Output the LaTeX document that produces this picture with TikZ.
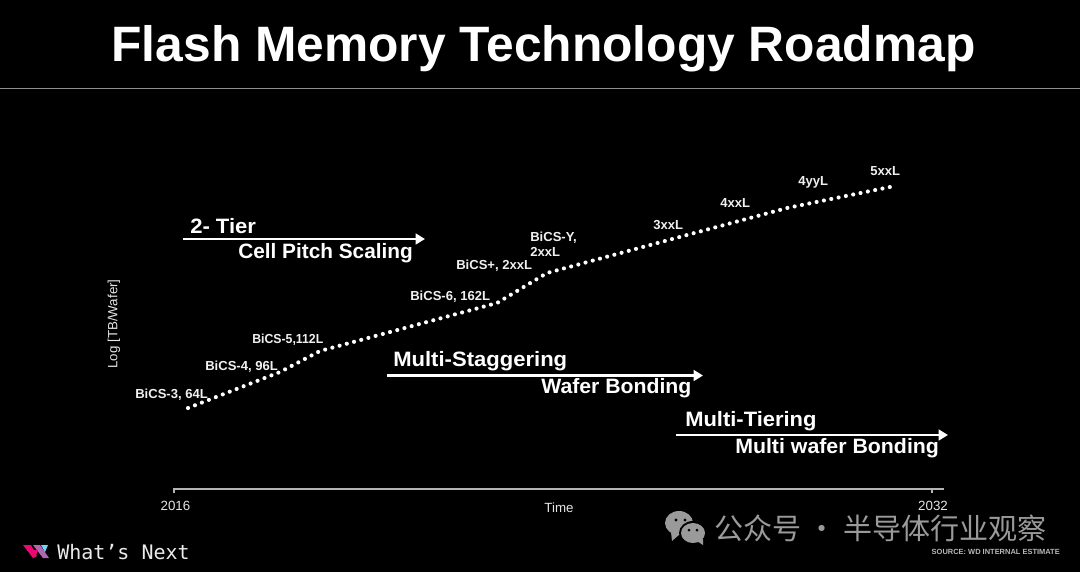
\documentclass[tikz,border=0pt]{standalone}
\usepackage{graphicx}
\usepackage{fontspec}
\setmainfont{Liberation Sans}
\newfontfamily\cjk{Noto Sans CJK SC}
\newfontfamily\monof{DejaVu Sans Mono}
\usetikzlibrary{arrows.meta}
\definecolor{axisgray}{HTML}{B4B4B4}
\definecolor{rulegray}{HTML}{8F8F8F}
\definecolor{wmgray}{HTML}{9A9A9A}
\tikzset{
  x=0.75pt,y=-0.75pt,
  lbl/.style={text=white!94!black,inner sep=0pt,font=\fontsize{9.8}{11.3}\selectfont\bfseries,align=left},
  thin lbl/.style={text=white!90!black,inner sep=0pt,font=\fontsize{10}{12}\selectfont},
  head/.style={text=white,inner sep=0pt,font=\fontsize{15.6}{18}\selectfont\bfseries},
  phase/.style={draw=white,line width=2.2pt,-{Triangle[length=7pt,width=8pt]}},
  axisline/.style={draw=axisgray,line width=1.1pt},
  dots/.style={draw=white,line width=3.1pt,line cap=round,dash pattern=on 0pt off 5.6pt},
}
\begin{document}
\begin{tikzpicture}
\useasboundingbox[fill=black] (0,0) rectangle (1080,572);
\node[text=white,inner sep=0pt,anchor=base,font=\fontsize{37.3}{44}\selectfont\bfseries] (title) at (543.5,61.5) {Flash Memory Technology Roadmap};
\coordinate (ruleL) at (0,88.5); \coordinate (ruleR) at (1080,88.5);
\draw[draw=rulegray,line width=1.1pt] (ruleL) -- (ruleR);

% trend
\coordinate (p0) at (188,408); \coordinate (p1) at (280,372); \coordinate (p2) at (320,351);
\coordinate (p3) at (497,303); \coordinate (p4) at (547,273); \coordinate (p5) at (687,235);
\coordinate (p6) at (787,208); \coordinate (p7) at (890,187);
\draw[dots] (p0) -- (p1) -- (p2) -- (p3) -- (p4) -- (p5) -- (p6) -- (p7);

% trend labels
\node[lbl,anchor=west] (b3) at (135,394.5) {BiCS-3, 64L};
\node[lbl,anchor=west] (b4) at (205,366.5) {BiCS-4, 96L};
\node[lbl,anchor=west] (b5) at (252,339.5) {\scalebox{0.94}[1]{BiCS-5,112L}};
\node[lbl,anchor=west] (b6) at (410,296.5) {BiCS-6, 162L};
\node[lbl,anchor=west] (bp) at (456,266) {BiCS+, 2xxL};
\node[lbl,anchor=west] (by) at (530,244.5) {BiCS-Y,\\2xxL};
\node[lbl,anchor=west] (l3) at (653,225) {3xxL};
\node[lbl,anchor=west] (l4) at (720,203) {4xxL};
\node[lbl,anchor=west] (l4y) at (798,182.5) {4yyL};
\node[lbl,anchor=west] (l5) at (870,171) {5xxL};

% phases
\node[head,anchor=west] (t1) at (190,226.5) {\scalebox{1.06}[1]{2- Tier}};
\node[head,anchor=west] (t2) at (238,253.5) {Cell Pitch Scaling};
\coordinate (a1s) at (183,239); \coordinate (a1e) at (425,239);
\draw[phase] (a1s) -- (a1e);
\node[head,anchor=west] (m1) at (393,361.5) {\scalebox{1.06}[1]{Multi-Staggering}};
\node[head,anchor=west] (m2) at (541,388.5) {\scalebox{1.02}[1]{Wafer Bonding}};
\coordinate (a2s) at (387,375.5); \coordinate (a2e) at (703,375.5);
\draw[phase] (a2s) -- (a2e);
\node[head,anchor=west] (n1) at (685,421.5) {\scalebox{1.055}[1]{Multi-Tiering}};
\node[head,anchor=west] (n2) at (735,448.5) {\scalebox{1.025}[1]{Multi wafer Bonding}};
\coordinate (a3s) at (676,435); \coordinate (a3e) at (948,435);
\draw[phase] (a3s) -- (a3e);

% axes
\coordinate (xa) at (174,493); \coordinate (xb) at (174,489); \coordinate (xc) at (944,489);
\coordinate (xd) at (932,489); \coordinate (xe) at (932,493);
\draw[axisline] (xa) -- (xb) -- (xc);
\draw[axisline] (xd) -- (xe);
\node[thin lbl] (y16) at (175.5,505.5) {2016};
\node[thin lbl] (y32) at (933,505.5) {2032};
\node[thin lbl] (time) at (559,508) {Time};
\node[thin lbl,rotate=90] (ylab) at (114,324) {Log [TB/Wafer]};

% brand
\fill[magenta!75!red] (23,545) -- (31,545) -- (37,556) -- (33,558) -- cycle;
\fill[violet!60!white] (33,545) -- (40,545) -- (49,558) -- (43,558) -- cycle;
\fill[magenta!75!red] (33,550) -- (38,550) -- (35,558) -- cycle;
\fill[violet!60!white] (41,551) -- (45,551) -- (43,558) -- cycle;
\fill[cyan!55!white] (41,545) -- (48,545) -- (45,552) -- cycle;
\node[text=white!92!black,inner sep=0pt,anchor=west,font=\fontsize{15}{18}\selectfont\monof] (brand) at (57,552) {What’s Next};
\node[text=white!72!black,inner sep=0pt,anchor=east,font=\fontsize{5.6}{6}\selectfont\bfseries] (src) at (1060,552) {SOURCE: WD INTERNAL ESTIMATE};

% watermark
\fill[wmgray] (679,523) ellipse (14 and 12);
\fill[wmgray] (671,532) -- (672,541) -- (680,534) -- cycle;
\fill[black] (676,520) circle (1.7) (685,520) circle (1.7);
\fill[black] (693,533) ellipse (14 and 12);
\fill[wmgray] (693,533) ellipse (12 and 10);
\fill[wmgray] (697,541) -- (703,539) -- (703,545) -- cycle;
\fill[black] (689,530) circle (1.5) (697,530) circle (1.5);
\node[text=wmgray,inner sep=0pt,anchor=west,font=\fontsize{21.8}{24}\selectfont\cjk] (wm) at (714,528) {公众号 · 半导体行业观察};
\end{tikzpicture}
\end{document}
